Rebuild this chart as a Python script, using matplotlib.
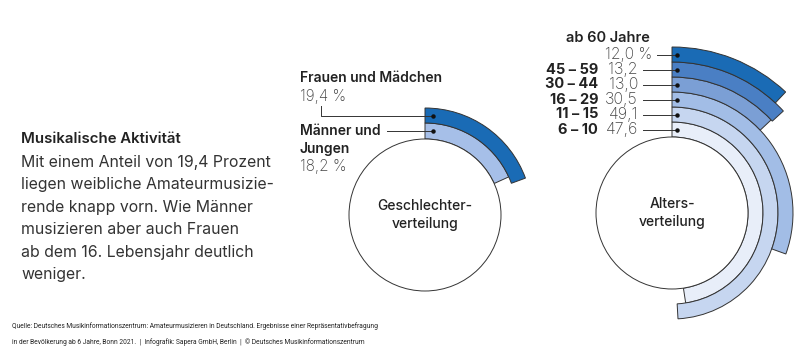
import matplotlib.pyplot as plt
from matplotlib.patches import Wedge, Circle

# Daten
geschlecht_labels = ['Männer und\nJungen', 'Frauen und Mädchen']
geschlecht_werte = [18.2, 19.4]
geschlecht_farben = ['#a6bfe8', '#1a6bb5']

alter_labels = ['6 – 10', '11 – 15', '16 – 29', '30 – 44', '45 – 59', 'ab 60 Jahre']
alter_werte = [47.6, 49.1, 30.5, 13.0, 13.2, 12.0]
alter_farben = ['#e8eef9', '#c6d6f0', '#a2bde6', '#7b9fd5', '#4a7fc4', '#1a6bb5']

FONT = ['Inter', 'DejaVu Sans']
plt.rcParams['font.family'] = FONT
LINE = '#333333'
TXT = '#222222'
GRAY = '#444444'

fig = plt.figure(figsize=(8, 3.62), dpi=100)
ax = fig.add_axes([0, 0, 1, 1])
ax.set_xlim(0, 800)
ax.set_ylim(362, 0)
ax.set_aspect('equal')
ax.axis('off')

R0 = 76  # Radius des inneren Kreises


def ringe(cx, cy, werte, farben, breiten):
    r = R0
    mitten = []
    for v, f, b in zip(werte, farben, breiten):
        r += b
        # -90 = oben, im Uhrzeigersinn (y-Achse invertiert)
        ax.add_patch(Wedge((cx, cy), r, -90, -90 + v * 3.6, width=b,
                           facecolor=f, edgecolor=LINE, linewidth=0.7))
        mitten.append(r - b / 2)
    ax.add_patch(Circle((cx, cy), R0, facecolor='white', edgecolor=LINE, linewidth=0.7))
    return mitten


# Linke Grafik: Geschlechterverteilung
cx1, cy1 = 425, 215
m1 = ringe(cx1, cy1, geschlecht_werte, geschlecht_farben, [16, 15])
ax.text(cx1, cy1, 'Geschlechter-\nverteilung', ha='center', va='center',
        fontsize=10, fontweight='medium', color=TXT, linespacing=1.45)

dx = cx1 + 8
ax.text(300, 78, geschlecht_labels[1], ha='left', va='center', fontsize=10,
        fontweight='semibold', color=TXT)
ax.text(300, 96, f'{geschlecht_werte[1]:.1f} %'.replace('.', ','), ha='left', va='center',
        fontsize=11, fontweight='light', color=GRAY)
ax.plot([321, 321, dx], [106, cy1 - m1[1], cy1 - m1[1]], color=LINE, lw=0.7)
ax.plot(dx, cy1 - m1[1], 'o', ms=2.2, color='#111111')

ax.text(300, 140, geschlecht_labels[0], ha='left', va='center', fontsize=10,
        fontweight='semibold', color=TXT, linespacing=1.3)
ax.text(300, 166, f'{geschlecht_werte[0]:.1f} %'.replace('.', ','), ha='left', va='center',
        fontsize=11, fontweight='light', color=GRAY)
ax.plot([387, dx], [cy1 - m1[0], cy1 - m1[0]], color=LINE, lw=0.7)
ax.plot(dx, cy1 - m1[0], 'o', ms=2.2, color='#111111')

# Rechte Grafik: Altersverteilung
cx2, cy2 = 672, 213
m2 = ringe(cx2, cy2, alter_werte, alter_farben, [15] * 6)
ax.text(cx2, cy2, 'Alters-\nverteilung', ha='center', va='center',
        fontsize=10, fontweight='medium', color=TXT, linespacing=1.45)

dx2 = cx2 + 5
for i, (lab, v) in enumerate(zip(alter_labels, alter_werte)):
    y = cy2 - m2[i]
    wert = f'{v:.1f}'.replace('.', ',')
    if lab.startswith('ab'):
        ax.text(650, y - 17, lab, ha='right', va='center', fontsize=10.5,
                fontweight='semibold', color=TXT)
        ax.text(652, y, wert + ' %', ha='right', va='center', fontsize=11.2,
                fontweight='light', color=GRAY)
        x0 = 657
    else:
        ax.text(598, y, lab, ha='right', va='center', fontsize=10.5,
                fontweight='bold', color=TXT)
        ax.text(638, y, wert, ha='right', va='center', fontsize=11.5,
                fontweight='light', color=GRAY)
        x0 = 643
    ax.plot([x0, dx2], [y, y], color=LINE, lw=0.7)
    ax.plot(dx2, y, 'o', ms=2.2, color='#111111')

# Text links
ax.text(21, 139, 'Musikalische Aktivität', ha='left', va='center', fontsize=10.8,
        fontweight='semibold', color=TXT)
body = ['Mit einem Anteil von 19,4 Prozent',
        'liegen weibliche Amateurmusizie-',
        'rende knapp vorn. Wie Männer',
        'musizieren aber auch Frauen',
        'ab dem 16. Lebensjahr deutlich',
        'weniger.']
for i, z in enumerate(body):
    ax.text(21, 162 + i * 22.6, z, ha='left', va='center', fontsize=11.4,
            color='#333333')

# Quelle
fuss = ['Quelle: Deutsches Musikinformationszentrum: Amateurmusizieren in Deutschland. '
        'Ergebnisse einer Repräsentativbefragung',
        'in der Bevölkerung ab 6 Jahre, Bonn 2021.  |  Infografik: Sapera GmbH, Berlin  |  '
        '© Deutsches Musikinformationszentrum']
for i, z in enumerate(fuss):
    ax.text(12, 326 + i * 16, z, ha='left', va='center', fontsize=4.8,
            family=['Roboto', 'DejaVu Sans'], color=TXT)

fig.savefig('out.png', dpi=100)
